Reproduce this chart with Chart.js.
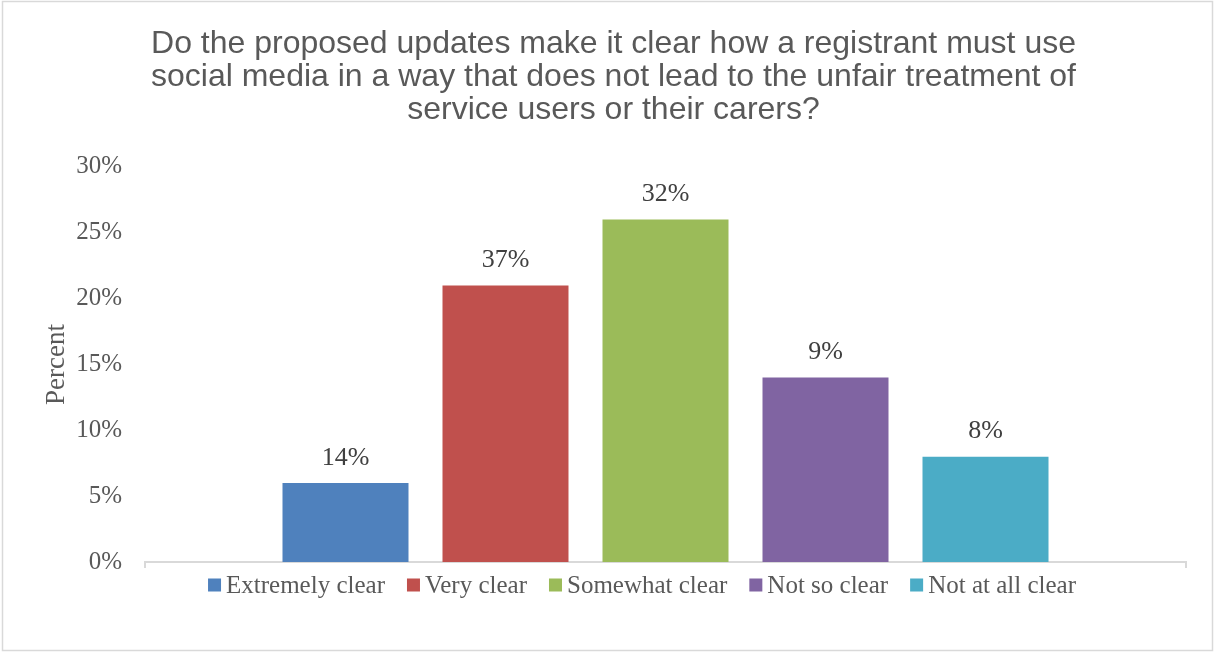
<!DOCTYPE html>
<html>
<head>
<meta charset="utf-8">
<title>Social media clarity</title>
<script src="https://cdn.jsdelivr.net/npm/chart.js@4/dist/chart.umd.min.js"></script>
<style>
  html, body { margin: 0; padding: 0; background: #fff; }
  #wrap { width: 1216px; height: 653px; }
</style>
</head>
<body>
<div id="wrap"><canvas id="chart" width="1216" height="653"></canvas></div>
<script>
const categories = ['Extremely clear', 'Very clear', 'Somewhat clear', 'Not so clear', 'Not at all clear'];
const values = [6, 21, 26, 14, 8];
const labelText = ['14%', '37%', '32%', '9%', '8%'];
const colors = ['#4F81BD', '#C0504D', '#9BBB59', '#8064A2', '#4BACC6'];
const yTicks = [0, 5, 10, 15, 20, 25, 30];
const titleLines = [
    'Do the proposed updates make it clear how a registrant must use',
    'social media in a way that does not lead to the unfair treatment of',
    'service users or their carers?'
];

const serif = '"Liberation Serif", "Times New Roman", serif';
const textGrey = '#595959';

// light frame round the whole chart
const framePlugin = {
    id: 'frame',
    beforeDraw(chart) {
        const c = chart.ctx;
        c.save();
        c.fillStyle = '#fff';
        c.fillRect(0, 0, chart.width, chart.height);
        c.strokeStyle = '#d9d9d9';
        c.lineWidth = 1.5;
        c.strokeRect(2.5, 1.5, 1210, 649);
        c.restore();
    }
};

// text above each bar
const barLabels = {
    id: 'barLabels',
    afterDatasetsDraw(chart) {
        const c = chart.ctx;
        c.save();
        c.font = '26px ' + serif;
        c.fillStyle = '#404040';
        c.textAlign = 'center';
        c.textBaseline = 'middle';
        chart.data.datasets.forEach((ds, i) => {
            const bar = chart.getDatasetMeta(i).data[0];
            c.fillText(labelText[i], bar.x, bar.y - 25);
        });
        c.restore();
    }
};

// one-row legend under the axis, swatch close to its text
const bottomLegend = {
    id: 'bottomLegend',
    afterDraw(chart) {
        const c = chart.ctx;
        const box = 13, gap = 5, spacing = 22;
        c.save();
        c.font = '25px ' + serif;
        const items = chart.data.datasets.map(ds => ({
            text: ds.label,
            color: ds.backgroundColor,
            w: box + gap + c.measureText(ds.label).width
        }));
        const total = items.reduce((s, it) => s + it.w, 0) + spacing * (items.length - 1);
        const cy = chart.chartArea.bottom + 23;
        let x = 642 - total / 2;
        c.textBaseline = 'middle';
        c.textAlign = 'left';
        items.forEach(it => {
            c.fillStyle = it.color;
            c.fillRect(x, cy - box / 2, box, box);
            c.fillStyle = textGrey;
            c.fillText(it.text, x + box + gap, cy + 1);
            x += it.w + spacing;
        });
        c.restore();
    }
};

const ctx = document.getElementById('chart').getContext('2d');
const chart = new Chart(ctx, {
    type: 'bar',
    data: {
        labels: [''],
        datasets: categories.map((name, i) => ({
            label: name,
            data: [values[i]],
            backgroundColor: colors[i],
            categoryPercentage: 0.7685,
            barPercentage: 0.7875
        }))
    },
    options: {
        responsive: false,
        animation: false,
        layout: { padding: { left: 41, right: 30, top: 0, bottom: 83 } },
        plugins: {
            tooltip: { enabled: false },
            legend: { display: false },
            title: {
                display: true,
                text: titleLines,
                color: textGrey,
                font: { family: '"Liberation Sans", Arial, sans-serif', size: 32, weight: 'normal', lineHeight: 1.03 },
                padding: { top: 28, bottom: 40 }
            }
        },
        scales: {
            x: {
                grid: {
                    display: true,
                    drawOnChartArea: false,
                    drawTicks: true,
                    tickLength: 6,
                    color: '#d9d9d9',
                    lineWidth: 2,
                    offset: true
                },
                border: { color: '#d9d9d9', width: 2 },
                ticks: { display: false },
                afterFit(scale) { scale.height = 8; }
            },
            y: {
                min: 0,
                max: 30,
                afterBuildTicks(scale) { scale.ticks = yTicks.map(v => ({ value: v })); },
                grid: { display: false, drawTicks: false },
                border: { display: false },
                ticks: {
                    color: textGrey,
                    font: { family: serif, size: 25 },
                    padding: 23,
                    callback: v => v + '%'
                },
                title: {
                    display: true,
                    text: 'Percent',
                    color: textGrey,
                    font: { family: serif, size: 27 },
                    padding: 0
                },
                afterFit(scale) { scale.width = 104; }
            }
        }
    },
    plugins: [framePlugin, barLabels, bottomLegend]
});
</script>
</body>
</html>
